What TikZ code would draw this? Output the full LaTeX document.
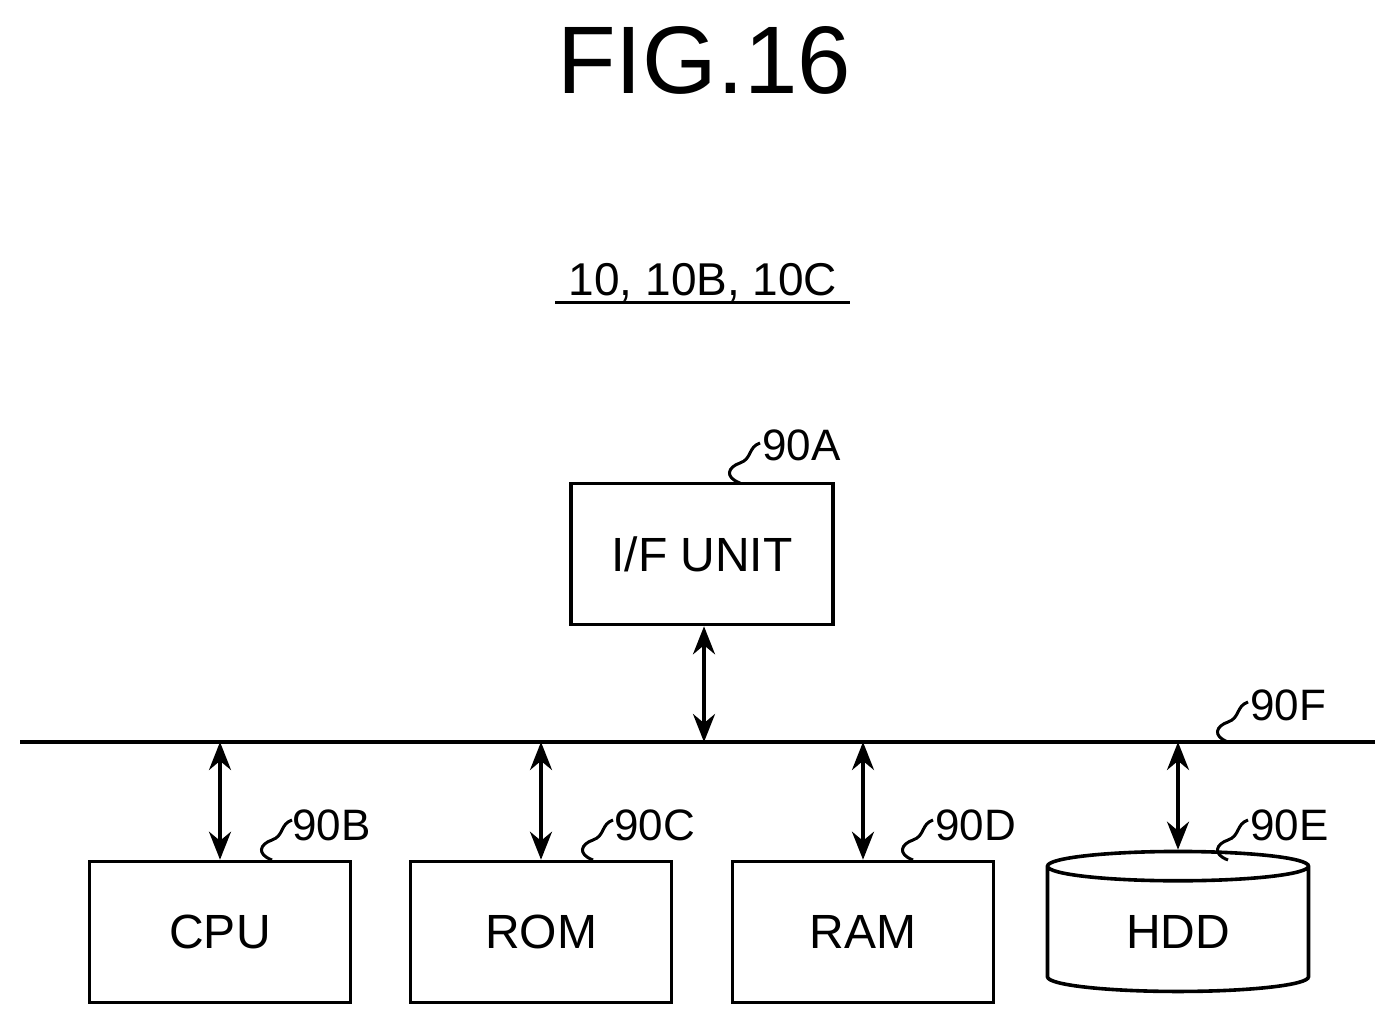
\documentclass[tikz,border=0pt]{standalone}
\usepackage{fontspec}
\setmainfont{Liberation Sans}
\usetikzlibrary{arrows.meta,shapes.geometric}
\newcommand\squig[1]{\draw[line width=1.5pt,shift={#1}] (0,0) .. controls (-16,-6) and (-12,-16) .. (0,-20) .. controls (12,-24) and (8,-36) .. (20,-40);}
\begin{document}
\begin{tikzpicture}[x=0.5pt,y=-0.5pt,
  box/.style={draw,line width=1.8pt,minimum width=130.5pt,minimum height=70.5pt,font=\fontsize{24}{28}\selectfont},
  lab/.style={font=\fontsize{22}{26}\selectfont,anchor=west,inner sep=0pt},
  arr/.style={line width=1.8pt,{Stealth[length=14pt,width=11pt]}-{Stealth[length=14pt,width=11pt]}}]
\useasboundingbox (0,0) rectangle (1396,1027);
\node[font=\fontsize{48}{56}\selectfont] (fig) at (704,60) {FIG.16};
\node[font=\fontsize{23}{27}\selectfont] (ttl) at (703,282) {10, 10B, 10C};
\draw[line width=1.5pt] (555,302) -- (850,302);
\node[box,minimum width=131pt] (if) at (702,554) {I/F UNIT};
\node[box] (cpu) at (220,932) {CPU};
\node[box] (rom) at (541,932) {ROM};
\node[box] (ram) at (863,932) {RAM};
\node[cylinder,shape border rotate=90,draw,line width=1.8pt,minimum width=130.5pt,minimum height=70pt,aspect=0.25,font=\fontsize{24}{28}\selectfont] (hdd) at (1178,932) {HDD};
\coordinate (b0) at (20,742); \coordinate (b1) at (1375,742);
\draw[line width=2pt] (b0) -- (b1);
\coordinate (bi) at (704,742); \coordinate (bc) at (220,742); \coordinate (bo) at (541,742);
\coordinate (ba) at (863,742); \coordinate (bh) at (1178,742);
\draw[arr] (if.south -| bi) -- (bi);
\draw[arr] (bc) -- (cpu.north);
\draw[arr] (bo) -- (rom.north);
\draw[arr] (ba) -- (ram.north);
\draw[arr] (bh) -- (hdd.north);
\squig{(740,483)} \node[lab] (la) at (762,445) {90A};
\squig{(1228,742)} \node[lab] (lf) at (1250,705) {90F};
\squig{(272,860)} \node[lab] (lb) at (292,825) {90B};
\squig{(593,860)} \node[lab] (lc) at (614,825) {90C};
\squig{(913,860)} \node[lab] (ld) at (935,825) {90D};
\squig{(1228,860)} \node[lab] (le) at (1250,825) {90E};
\end{tikzpicture}
\end{document}
